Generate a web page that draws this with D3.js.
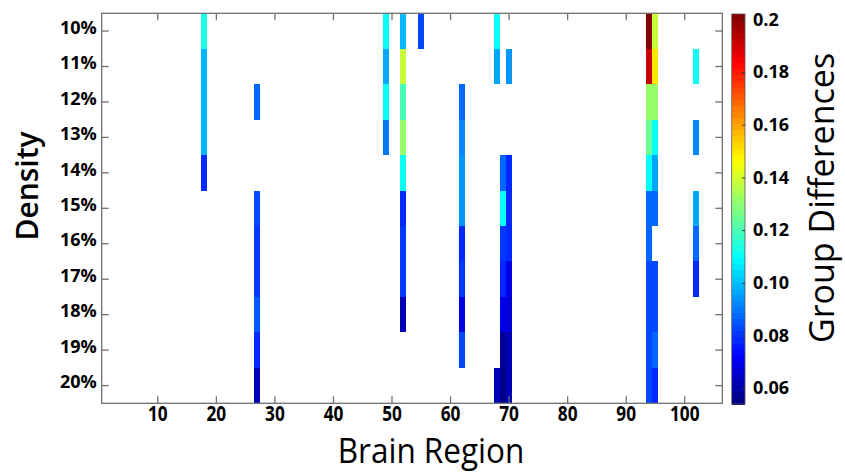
<!DOCTYPE html>
<html><head><meta charset="utf-8">
<script src="https://cdn.jsdelivr.net/npm/d3@7"></script>
<style>
html,body{margin:0;padding:0;background:#fff;}
svg text{font-family:"Open Sans",sans-serif;fill:#000;}
</style></head>
<body><svg id="chart" width="845" height="473"></svg>
<script>
// ---- data ----
const densityLabels = ["10%","11%","12%","13%","14%","15%","16%","17%","18%","19%","20%"];
const regions = [18, 27, 49, 52, 55, 62, 68, 69, 70, 94, 95, 102];
const xTicks = [10,20,30,40,50,60,70,80,90,100];
const colorTicks = [0.2,0.18,0.16,0.14,0.12,0.10,0.08,0.06];
const colorTickLabels = ["0.2","0.18","0.16","0.14","0.12","0.10","0.08","0.06"];
const colorDomain = [0.054, 0.202];
// values per region, one per density row (null = not significant)
const r18  = [0.112,0.100,0.100,0.100,0.079,null,null,null,null,null,null];
const r27  = [null,null,0.087,null,null,0.082,0.080,0.080,0.085,0.078,0.061];
const r49  = [0.110,0.096,0.110,0.090,null,null,null,null,null,null,null];
const r52  = [0.098,0.138,0.119,0.132,0.110,0.079,0.080,0.080,0.063,null,null];
const r55  = [0.082,null,null,null,null,null,null,null,null,null,null];
const r62  = [null,null,0.087,0.092,0.095,0.095,0.079,0.080,0.068,0.082,null];
const r68  = [0.110,0.096,null,null,null,null,null,null,null,null,0.063];
const r69  = [null,null,null,null,0.088,0.110,0.081,0.079,0.069,0.058,0.055];
const r70  = [null,0.095,null,null,0.079,0.079,0.079,0.068,0.066,0.062,0.061];
const r94  = [0.200,0.192,0.132,0.124,0.110,0.088,0.087,0.084,0.084,0.083,0.084];
const r95  = [0.138,0.151,0.132,0.110,0.096,0.088,null,0.084,0.084,0.087,0.079];
const r102 = [null,0.110,null,0.093,null,0.096,0.087,0.079,null,null,null];
const regionValues = [r18,r27,r49,r52,r55,r62,r68,r69,r70,r94,r95,r102];

const cells = [];
regions.forEach((reg,i)=>regionValues[i].forEach((v,j)=>{ if(v!==null) cells.push({region:reg, density:densityLabels[j], value:v}); }));

// ---- layout ----
const svg = d3.select("#chart");
const L=101.7, R=722.3, T=13.3, B=403.3;
const x = d3.scaleLinear().domain([0.5,106.5]).range([L,R]);
const y = d3.scaleBand().domain(densityLabels).range([T,B]);
function jet(t){
  const c=v=>Math.max(0,Math.min(1,v));
  const r=c(Math.min(4*t-1.5,-4*t+4.5)), g=c(Math.min(4*t-0.5,-4*t+3.5)), b=c(Math.min(4*t+0.5,-4*t+2.5));
  return d3.rgb(r*255,g*255,b*255).toString();
}
const nColors = 64;
const color = v => {
  let t=(v-colorDomain[0])/(colorDomain[1]-colorDomain[0]);
  t=Math.max(0,Math.min(0.9999,t));
  const k=Math.floor(t*nColors);
  return jet((k+0.5)/nColors);
};

// cells
svg.append("g").selectAll("rect").data(cells).join("rect")
  .attr("x",d=>x(d.region-0.5)).attr("width",d=>x(d.region+0.5)-x(d.region-0.5))
  .attr("y",d=>y(d.density)).attr("height",y.bandwidth())
  .attr("fill",d=>color(d.value)).attr("shape-rendering","crispEdges");

const axisCol="#707070";
// frame
svg.append("rect").attr("x",L).attr("y",T).attr("width",R-L).attr("height",B-T)
  .attr("fill","none").attr("stroke",axisCol).attr("stroke-width",1.3);

// x axis bottom
const gx = svg.append("g").attr("transform",`translate(0,${B})`)
  .call(d3.axisBottom(x).tickValues(xTicks).tickSizeInner(-7).tickSizeOuter(0).tickPadding(3.5));
gx.select(".domain").remove();
gx.selectAll("line").attr("stroke",axisCol).attr("stroke-width",1.3);
gx.selectAll("text").attr("font-size","20.5px").attr("font-weight","bold")
  .attr("transform","scale(0.84,1)");
// x axis top ticks
const gxt = svg.append("g").attr("transform",`translate(0,${T})`)
  .call(d3.axisTop(x).tickValues(xTicks).tickSizeInner(-7).tickSizeOuter(0).tickFormat(""));
gxt.select(".domain").remove();
gxt.selectAll("line").attr("stroke",axisCol).attr("stroke-width",1.3);

// y axis left
const gy = svg.append("g").attr("transform",`translate(${L},0)`)
  .call(d3.axisLeft(y).tickSizeInner(-7).tickSizeOuter(0).tickPadding(5));
gy.select(".domain").remove();
gy.selectAll("line").attr("stroke",axisCol).attr("stroke-width",1.3);
gy.selectAll("text").attr("font-size","18px").attr("font-weight","bold").attr("dy","0.15em");
// y axis right ticks
const gyr = svg.append("g").attr("transform",`translate(${R},0)`)
  .call(d3.axisRight(y).tickSizeInner(-7).tickSizeOuter(0).tickFormat(""));
gyr.select(".domain").remove();
gyr.selectAll("line").attr("stroke",axisCol).attr("stroke-width",1.3);

// colorbar
const CL=731.7, CW=13.3, CT=14, CB=404;
const cy = d3.scaleLinear().domain(colorDomain).range([CB,CT]);
const steps = d3.range(nColors);
svg.append("g").selectAll("rect").data(steps).join("rect")
  .attr("x",CL).attr("width",CW)
  .attr("y",k=>cy(colorDomain[0]+(k+1)/nColors*(colorDomain[1]-colorDomain[0])))
  .attr("height",(CB-CT)/nColors+0.5)
  .attr("fill",k=>jet((k+0.5)/nColors)).attr("shape-rendering","crispEdges");
svg.append("rect").attr("x",CL).attr("y",CT).attr("width",CW).attr("height",CB-CT)
  .attr("fill","none").attr("stroke","#555").attr("stroke-width",0.8);
const gc = svg.append("g").attr("transform",`translate(${CL+CW},0)`)
  .call(d3.axisRight(cy).tickValues(colorTicks).tickSizeInner(-3).tickSizeOuter(0).tickPadding(8)
    .tickFormat((d,i)=>colorTickLabels[i]));
gc.select(".domain").remove();
gc.selectAll("line").attr("stroke","#333");
gc.selectAll("text").attr("font-size","18px").attr("font-weight","bold");

// titles
svg.append("text").attr("transform","translate(38,186) rotate(-90)").attr("text-anchor","middle")
  .attr("font-size","30px").attr("font-weight","600").text("Density");
svg.append("text").attr("transform","translate(834,198) rotate(-90)").attr("text-anchor","middle")
  .attr("font-size","34px").text("Group Differences");
svg.append("text").attr("transform","translate(431,463) scale(0.9,1)").attr("text-anchor","middle")
  .attr("font-size","35px").text("Brain Region");
</script></body></html>
